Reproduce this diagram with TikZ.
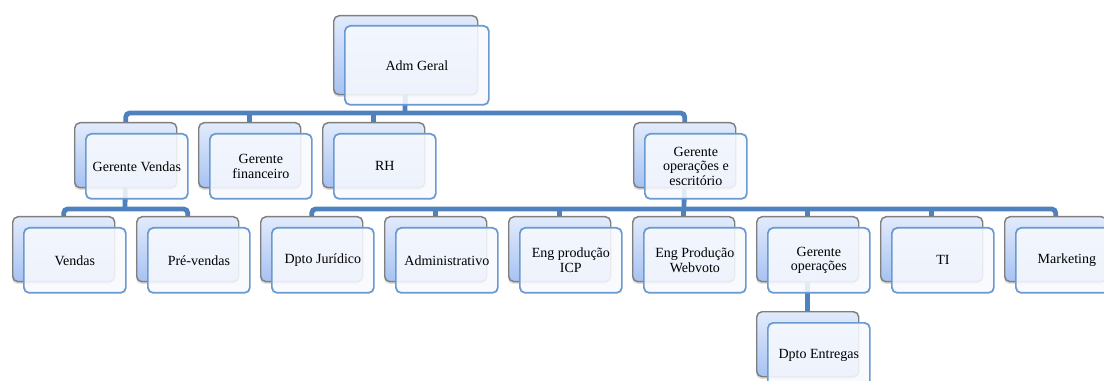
\documentclass[tikz,border=0pt]{standalone}
\usepackage{fontspec}
\setmainfont{Liberation Serif}
\usetikzlibrary{shadows,backgrounds}
\definecolor{connc}{HTML}{4F81BD}
\definecolor{backline}{HTML}{7F7F7F}
\definecolor{backtop}{HTML}{E2EBFB}
\definecolor{backbot}{HTML}{A6C2F3}
\definecolor{frontline}{HTML}{6A9AD0}
\definecolor{frontfill}{HTML}{F7F9FE}
\tikzset{
  backbox/.style={draw=backline, line width=1.1pt, rounded corners=4pt,
    top color=backtop, bottom color=backbot,
    drop shadow={opacity=0.25, shadow xshift=-0.6pt, shadow yshift=-1.6pt},
    minimum width=76.5pt, minimum height=48.75pt, inner sep=0pt, anchor=north west},
  frontbox/.style={draw=frontline, line width=1.3pt, rounded corners=4pt,
    fill=frontfill, fill opacity=0.88, text opacity=1, align=center,
    font=\fontsize{10.5}{11}\selectfont,
    minimum width=76.5pt, minimum height=48.75pt, inner sep=0pt, anchor=north west},
  bigbox/.style={minimum width=108pt, minimum height=59.25pt},
  conn/.style={draw=connc, line width=3.6pt, rounded corners=3pt}
}
\begin{document}
\begin{tikzpicture}[x=0.75pt,y=-0.75pt]
\useasboundingbox (0,0) rectangle (1104,381);
\clip (0,0) rectangle (1104,381);
% top
\node[backbox,bigbox] (adm) at (333,15) {};
\node[frontbox,bigbox] (adm-f) at (344,25) {Adm Geral};
% level 1
\node[backbox] (gv) at (74,122) {};
\node[frontbox] (gv-f) at (85,133) {Gerente Vendas};
\node[backbox] (gf) at (198,122) {};
\node[frontbox] (gf-f) at (209,133) {Gerente\\financeiro};
\node[backbox] (rh) at (322,122) {};
\node[frontbox] (rh-f) at (333,133) {RH};
\node[backbox] (geo) at (633,122) {};
\node[frontbox] (geo-f) at (644,133) {Gerente\\operações e\\escritório};
% level 2
\node[backbox] (ven) at (12,216) {};
\node[frontbox] (ven-f) at (23,227) {Vendas};
\node[backbox] (pre) at (136,216) {};
\node[frontbox] (pre-f) at (147,227) {Pré-vendas};
\node[backbox] (jur) at (260,216) {};
\node[frontbox] (jur-f) at (271,227) {Dpto Jurídico};
\node[backbox] (adm2) at (384,216) {};
\node[frontbox] (adm2-f) at (395,227) {Administrativo};
\node[backbox] (icp) at (508,216) {};
\node[frontbox] (icp-f) at (519,227) {Eng produção\\ICP};
\node[backbox] (web) at (632,216) {};
\node[frontbox] (web-f) at (643,227) {Eng Produção\\Webvoto};
\node[backbox] (gop) at (756,216) {};
\node[frontbox] (gop-f) at (767,227) {Gerente\\operações};
\node[backbox] (ti) at (880,216) {};
\node[frontbox] (ti-f) at (891,227) {TI};
\node[backbox] (mkt) at (1004,216) {};
\node[frontbox] (mkt-f) at (1015,227) {Marketing};
% level 3
\node[backbox] (ent) at (756,311) {};
\node[frontbox] (ent-f) at (767,322) {Dpto Entregas};
% connectors
\begin{scope}[on background layer]
\coordinate (j0) at (405,113);
\draw[conn] (adm.center) -- (j0);
\draw[conn] (gv.center) |- (j0) -| (geo.center);
\draw[conn] (gf.center) -- (gf.center |- j0);
\draw[conn] (rh.center) -- (rh.center |- j0);
\coordinate (j1) at (125,209);
\draw[conn] (gv.center) -- (j1);
\draw[conn] (ven.center) |- (j1) -| (pre.center);
\coordinate (j2) at (684,209);
\draw[conn] (geo.center) -- (j2);
\draw[conn] (jur.center) |- (j2) -| (mkt.center);
\draw[conn] (adm2.center) -- (adm2.center |- j2);
\draw[conn] (icp.center) -- (icp.center |- j2);
\draw[conn] (web.center) -- (web.center |- j2);
\draw[conn] (gop.center) -- (gop.center |- j2);
\draw[conn] (ti.center) -- (ti.center |- j2);
\draw[conn] (gop.center) -- (ent.center);
\end{scope}
\end{tikzpicture}
\end{document}
